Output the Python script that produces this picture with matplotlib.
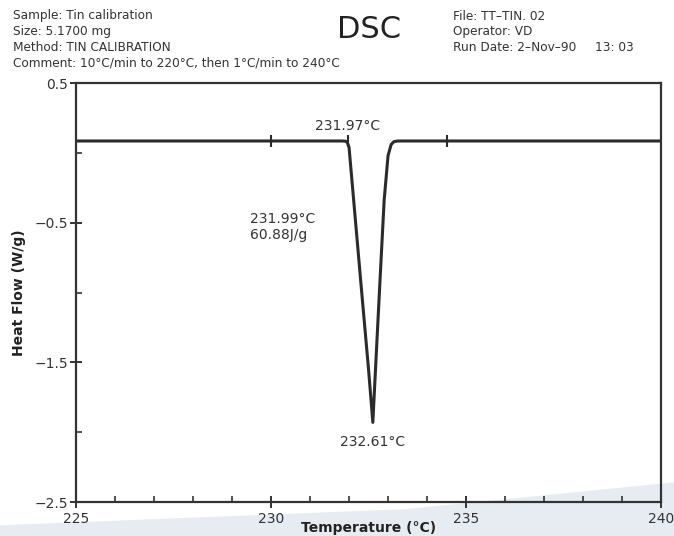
import matplotlib.pyplot as plt
from matplotlib.ticker import MultipleLocator, FixedLocator

plt.rcParams['font.family'] = ['DejaVu Sans']

# DSC trace of tin melting
temp = [225, 228, 230, 231.8, 231.9, 231.95, 232.0, 232.1, 232.3, 232.5, 232.61,
        232.7, 232.8, 232.9, 233.0, 233.08, 233.15, 233.25, 235, 238, 240]
heat_flow = [0.085, 0.085, 0.085, 0.085, 0.084, 0.078, 0.04, -0.28, -0.92, -1.55, -1.93,
             -1.43, -0.88, -0.34, -0.02, 0.06, 0.08, 0.085, 0.085, 0.085, 0.085]
marker_temps = [230, 231.97, 234.5]
baseline = 0.085

header_left = ['Sample: Tin calibration', 'Size: 5.1700 mg', 'Method: TIN CALIBRATION',
               'Comment: 10°C/min to 220°C, then 1°C/min to 240°C']
header_right = ['File: TT\u2013TIN. 02', 'Operator: VD', 'Run Date: 2\u2013Nov\u201390']

fig = plt.figure(figsize=(6.74, 5.36), dpi=100)

# faint watermark swoosh at the bottom, behind everything
bg = fig.add_axes([0, 0, 1, 1], zorder=-10)
bg.fill([0, 1, 1, 0.6, 0.2, 0], [0, 0, 0.10, 0.05, 0.03, 0.02], color='#e6ecf2', lw=0)
bg.set_xlim(0, 1)
bg.set_ylim(0, 1)
bg.axis('off')

ax = fig.add_axes([0.1128, 0.0634, 0.868, 0.7817])
ax.patch.set_alpha(0)

ax.plot(temp, heat_flow, color='#2b2b2b', lw=2.2, solid_joinstyle='round')
ax.plot(marker_temps, [baseline] * len(marker_temps), linestyle='none', marker='|',
        markersize=9, markeredgewidth=1.5, color='#2b2b2b')

ax.set_xlim(225, 240)
ax.set_ylim(-2.5, 0.5)

ax.xaxis.set_major_locator(FixedLocator([225, 230, 235, 240]))
ax.xaxis.set_minor_locator(MultipleLocator(1))
ax.yaxis.set_major_locator(FixedLocator([0.5, -0.5, -1.5, -2.5]))
ax.yaxis.set_minor_locator(FixedLocator([0, -1, -2]))
ax.set_yticklabels(['0.5', '\u22120.5', '\u22121.5', '\u22122.5'])

ax.tick_params(which='major', direction='inout', length=9, width=1.4, color='#333333',
               labelsize=10, labelcolor='#333333', pad=1)
ax.tick_params(axis='x', which='major', pad=3)
ax.tick_params(which='minor', direction='in', length=4, width=1.2, color='#333333')
ax.tick_params(axis='x', which='both', top=False)
ax.tick_params(axis='y', which='both', right=False)
for s in ax.spines.values():
    s.set_linewidth(1.6)
    s.set_color('#333333')

ax.set_ylabel('Heat Flow (W/g)', fontsize=10, fontweight='bold', color='#222222', labelpad=6)
ax.set_xlabel('Temperature (°C)', fontsize=10, fontweight='bold', color='#222222', labelpad=-4)

ax.text(231.97, 0.14, '231.97°C', ha='center', va='bottom', fontsize=10, color='#333333')
ax.text(229.45, -0.53, '231.99°C\n60.88J/g', ha='left', va='center', fontsize=10,
        color='#333333', linespacing=1.25)
ax.text(232.61, -2.02, '232.61°C', ha='center', va='top', fontsize=10, color='#333333')

for i, line in enumerate(header_left):
    fig.text(13 / 674, 1 - (16 + 15.7 * i) / 536, line, ha='left', va='center',
             fontsize=8.7, color='#333333')
for i, line in enumerate(header_right):
    fig.text(453 / 674, 1 - (16 + 15.7 * i) / 536, line, ha='left', va='center',
             fontsize=8.7, color='#333333')
fig.text(595 / 674, 1 - 47.4 / 536, '13: 03', ha='left', va='center', fontsize=8.7,
         color='#333333')
fig.text(369 / 674, 1 - 30 / 536, 'DSC', ha='center', va='center', fontsize=22,
         color='#222222')

fig.savefig('out.png', dpi=100)
